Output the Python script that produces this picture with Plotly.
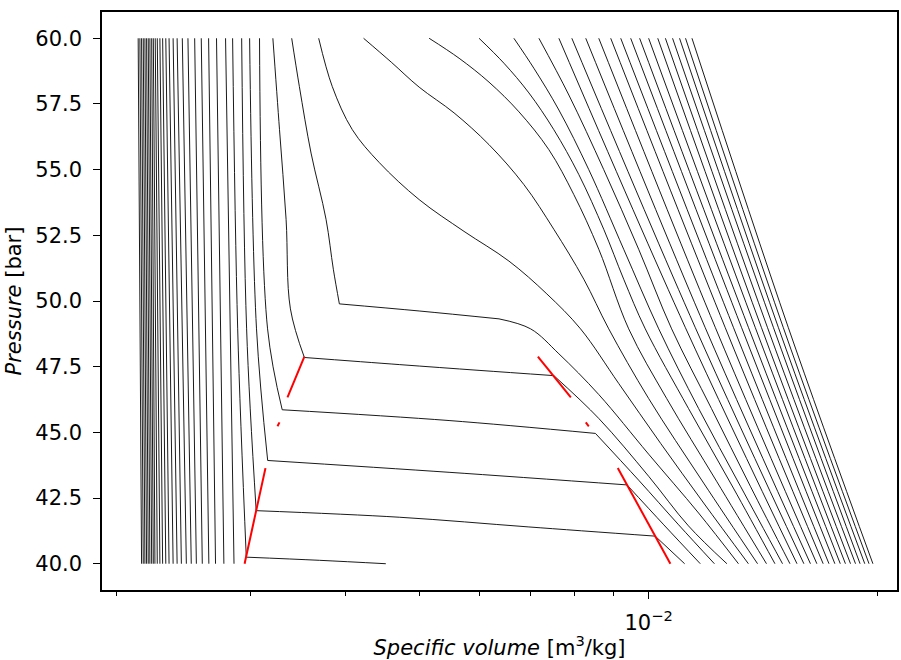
import plotly.graph_objects as go

# Specific volumes are listed in dm3/kg and converted to m3/kg when plotted
TO_M3 = 1e-3

# Compressed-liquid isotherms: volume at 60 bar and at 40 bar
liq_v_60 = [2.137, 2.148, 2.159, 2.170, 2.181, 2.192, 2.203, 2.214, 2.226, 2.237,
            2.250, 2.264, 2.282, 2.301, 2.323, 2.346, 2.375, 2.404, 2.442, 2.484,
            2.535, 2.586, 2.644, 2.708, 2.783]
liq_v_40 = [2.159, 2.170, 2.181, 2.192, 2.203, 2.214, 2.226, 2.237, 2.248, 2.264,
            2.282, 2.301, 2.323, 2.346, 2.375, 2.404, 2.435, 2.472, 2.509, 2.548,
            2.594, 2.646, 2.700, 2.769, 2.855]

# Isotherms crossing the two-phase region; *_bd = (bubble index, dew index)
iso1_v = [2.843, 2.887, 2.963, 3.696, 4.518]
iso1_p = [60.0, 48.94, 40.25, 40.13, 40.0]
iso1_bd = (2, 4)

iso2_v = [2.922, 2.966, 3.053, 4.705, 6.963, 10.20, 11.15]
iso2_p = [60.0, 48.94, 42.02, 41.77, 41.40, 41.05, 40.0]
iso2_bd = (2, 5)

iso3_v = [2.993, 3.056, 3.161, 5.470, 9.367, 10.47, 11.69]
iso3_p = [60.0, 48.94, 43.93, 43.48, 43.00, 41.48, 40.0]
iso3_bd = (2, 4)

iso4_v = [3.084, 3.160, 3.303, 5.470, 8.515, 9.703, 10.95, 12.20]
iso4_p = [60.0, 48.94, 45.86, 45.45, 44.96, 43.18, 41.48, 40.0]
iso4_bd = (2, 4)

iso5_v = [3.211, 3.276, 3.342, 3.386, 3.532, 4.705, 5.989, 7.508, 8.601, 10.00, 11.28, 12.67]
iso5_p = [60.0, 56.52, 53.11, 49.70, 47.85, 47.58, 47.36, 47.16, 45.53, 43.33, 41.44, 40.0]
iso5_bd = (4, 7)

iso6_v = [3.399, 3.479, 3.604, 3.771, 3.855, 3.926, 4.997, 6.361, 6.999, 7.624, 8.601,
          10.00, 11.63, 13.12]
iso6_p = [60.0, 58.16, 55.63, 53.11, 51.21, 49.89, 49.62, 49.32, 48.94, 47.99, 46.44,
          44.17, 41.93, 40.0]
iso6_bd = (5, 7)

# Supercritical isotherms close to the critical point
iso7_v = [3.688, 3.843, 4.083, 4.429, 4.997, 5.723, 6.555, 7.351, 8.139, 9.136, 10.37, 11.81, 13.52]
iso7_p = [60.0, 58.16, 56.52, 55.27, 53.86, 52.65, 51.52, 50.27, 48.94, 46.86, 44.58, 42.31, 40.0]

iso8_v = [4.224, 4.593, 4.997, 5.553, 6.172, 6.859, 7.508, 8.220, 8.864, 10.00, 11.81, 13.90]
iso8_p = [60.0, 59.09, 58.14, 57.16, 55.95, 54.43, 52.73, 50.83, 48.94, 46.29, 43.07, 40.0]

iso9_v = [5.150, 5.638, 6.172, 6.757, 7.396, 7.976, 8.601, 9.415, 10.56, 12.28, 14.28]
iso9_p = [60.0, 59.24, 58.33, 57.20, 55.76, 54.05, 51.97, 48.94, 46.29, 43.14, 40.0]

iso10_v = [5.989, 6.457, 6.963, 7.508, 8.098, 8.731, 9.274, 9.899, 11.28, 12.92, 14.65]
iso10_p = [60.0, 59.05, 57.92, 56.52, 54.81, 52.73, 50.83, 48.94, 45.91, 42.88, 40.0]

iso11_v = [6.654, 7.068, 7.624, 8.345, 9.274, 10.31, 11.63, 13.20, 14.99]
iso11_p = [60.0, 58.86, 57.27, 55.00, 51.97, 48.94, 45.91, 42.95, 40.0]

iso12_v = [7.177, 7.857, 8.731, 9.703, 10.72, 12.09, 13.60, 15.33]
iso12_p = [60.0, 57.84, 55.00, 51.97, 48.94, 45.91, 42.95, 40.0]

# Gas-like supercritical isotherms: volume at 60, 49 and 40 bar
far_p = [60.0, 49.0, 40.0]
far_v_60 = [7.624, 7.928, 8.269, 8.601, 8.917, 9.191, 9.472, 9.732, 10.00, 10.28,
            10.52, 10.75, 10.98, 11.18, 11.40]
far_v_49 = [11.17, 11.51, 11.86, 12.23, 12.60, 12.92, 13.24, 13.52, 13.80, 14.06,
            14.32, 14.58, 14.80, 15.02, 15.25]
far_v_40 = [15.66, 15.99, 16.31, 16.63, 16.95, 17.25, 17.56, 17.85, 18.13, 18.41,
            18.69, 18.95, 19.22, 19.47, 19.70]

# Phase envelope pieces (bubble and dew sides)
env_p = [40.0, 43.64, None, 45.23, 45.38, None, 46.33, 47.88]
bub_v = [2.948, 3.140, None, 3.256, 3.276, None, 3.356, 3.532]
dew_v = [10.68, 9.109, None, 8.345, 8.269, None, 7.904, 7.155]

y_ticks = [40.0, 42.5, 45.0, 47.5, 50.0, 52.5, 55.0, 57.5, 60.0]
x_major = [1e-2]
x_minor = [2e-3, 3e-3, 4e-3, 5e-3, 6e-3, 7e-3, 8e-3, 9e-3, 2e-2]

BLACK = dict(color="black", width=0.9)
RED = dict(color="red", width=2)
fig = go.Figure()


def add(v, p, shape="linear", line=BLACK):
    xs = [None if a is None else a * TO_M3 for a in v]
    fig.add_trace(go.Scatter(x=xs, y=p, mode="lines", line=dict(shape=shape, **line),
                             hoverinfo="skip", showlegend=False, connectgaps=False))


for a, b in zip(liq_v_60, liq_v_40):
    add([a, b], [60.0, 40.0])

for v, p, (ib, idw) in [(iso1_v, iso1_p, iso1_bd), (iso2_v, iso2_p, iso2_bd),
                        (iso3_v, iso3_p, iso3_bd), (iso4_v, iso4_p, iso4_bd),
                        (iso5_v, iso5_p, iso5_bd), (iso6_v, iso6_p, iso6_bd)]:
    add(v[:ib + 1], p[:ib + 1], "spline")      # liquid branch
    add(v[ib:idw + 1], p[ib:idw + 1], "spline")  # two-phase stretch
    if idw < len(v) - 1:
        add(v[idw:], p[idw:], "spline")        # vapour branch

for v, p in [(iso7_v, iso7_p), (iso8_v, iso8_p), (iso9_v, iso9_p),
             (iso10_v, iso10_p), (iso11_v, iso11_p), (iso12_v, iso12_p)]:
    add(v, p, "spline")

for cols in zip(far_v_60, far_v_49, far_v_40):
    add(list(cols), far_p, "spline")

add(bub_v, env_p, "linear", RED)
add(dew_v, env_p, "linear", RED)

FONT = "DejaVu Sans"
FS = 21
axis_common = dict(showline=True, linecolor="black", linewidth=1.5, mirror=True,
                   ticks="outside", ticklen=7, tickwidth=1.3, tickcolor="black",
                   showgrid=False, zeroline=False,
                   tickfont=dict(family=FONT, size=FS, color="black"))

fig.update_layout(
    width=901, height=660,
    margin=dict(l=102, r=2, t=12, b=68),
    paper_bgcolor="white", plot_bgcolor="white",
    xaxis=dict(type="log", range=[-2.7177, -1.6739],
               tickmode="array", tickvals=x_major, ticktext=["10<sup>−2</sup>"],
               ticklabelstandoff=6,
               minor=dict(tickmode="array", tickvals=x_minor, ticks="outside",
                          ticklen=4, tickwidth=1.1, tickcolor="black", showgrid=False),
               title=dict(text="<i>Specific volume</i> [m<sup>3</sup>/kg]",
                          font=dict(family=FONT, size=FS, color="black"), standoff=8),
               **axis_common),
    yaxis=dict(range=[39.0, 61.0], tickmode="array", tickvals=y_ticks,
               ticktext=[f"{t:.1f}" for t in y_ticks], ticklabelstandoff=7,
               title=dict(text="<i>Pressure</i> [bar]",
                          font=dict(family=FONT, size=FS, color="black"), standoff=8),
               **axis_common),
)

fig.write_html("out.html")
